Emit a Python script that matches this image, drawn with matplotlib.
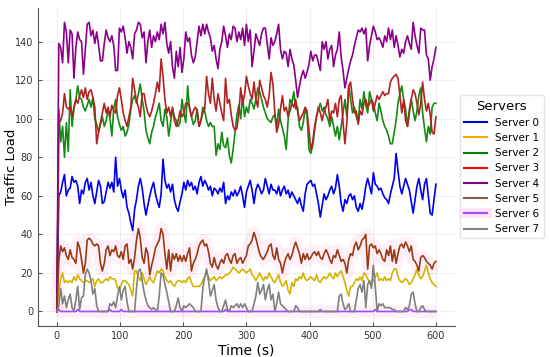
import numpy as np
import matplotlib.pyplot as plt
from matplotlib.lines import Line2D

# time axis, one sample every 3 s
time_s = np.arange(0, 601, 3)

server_names = ["Server 0", "Server 1", "Server 2", "Server 3",
                "Server 4", "Server 5", "Server 6", "Server 7"]

server0 = [0, 60, 62, 67, 71, 60, 63, 64, 70, 67,
           68, 65, 56, 63, 61, 67, 69, 63, 67, 60,
           56, 62, 68, 65, 56, 57, 62, 67, 64, 67,
           62, 80, 65, 69, 63, 59, 63, 54, 51, 46,
           42, 53, 58, 65, 69, 64, 56, 50, 55, 60,
           64, 67, 61, 57, 54, 61, 79, 68, 64, 66,
           62, 66, 58, 54, 52, 57, 61, 67, 63, 68,
           65, 67, 63, 65, 61, 67, 70, 65, 68, 66,
           63, 65, 60, 64, 63, 61, 64, 62, 67, 56,
           60, 58, 62, 60, 63, 60, 62, 65, 60, 54,
           62, 65, 68, 63, 56, 63, 66, 64, 61, 63,
           69, 65, 61, 66, 63, 63, 61, 65, 60, 63,
           65, 61, 63, 59, 62, 60, 58, 56, 59, 55,
           52, 61, 66, 67, 68, 65, 66, 61, 56, 49,
           55, 61, 58, 60, 63, 65, 61, 64, 71, 65,
           56, 52, 58, 56, 60, 61, 58, 60, 54, 52,
           56, 53, 58, 65, 69, 65, 61, 72, 66, 65,
           63, 64, 61, 59, 58, 56, 61, 65, 69, 82,
           73, 65, 61, 65, 69, 66, 63, 57, 51, 58,
           65, 69, 63, 58, 66, 69, 60, 51, 50, 58,
           66]

server1 = [0, 11, 17, 20, 15, 16, 15, 16, 15, 18,
           16, 19, 17, 16, 15, 16, 16, 15, 16, 17,
           13, 16, 17, 15, 15, 16, 17, 16, 18, 17,
           17, 16, 12, 11, 14, 16, 16, 15, 14, 11,
           8, 21, 21, 18, 16, 20, 17, 14, 16, 18,
           16, 15, 18, 21, 20, 22, 21, 18, 16, 15,
           16, 14, 13, 15, 16, 16, 15, 16, 15, 17,
           18, 15, 13, 13, 13, 13, 14, 16, 18, 20,
           18, 16, 17, 18, 16, 17, 18, 17, 18, 19,
           19, 20, 21, 23, 22, 21, 20, 21, 22, 21,
           20, 21, 22, 19, 18, 16, 18, 20, 18, 16,
           18, 17, 20, 18, 16, 15, 17, 19, 15, 13,
           14, 16, 11, 9, 15, 13, 17, 16, 18, 17,
           20, 17, 16, 17, 18, 17, 16, 19, 16, 15,
           17, 18, 17, 18, 20, 18, 17, 20, 18, 20,
           21, 18, 15, 11, 8, 13, 13, 15, 17, 16,
           18, 16, 20, 19, 17, 15, 14, 16, 18, 20,
           16, 17, 16, 18, 16, 17, 16, 20, 22, 22,
           18, 16, 15, 16, 17, 16, 14, 15, 17, 19,
           22, 19, 17, 18, 21, 24, 20, 17, 15, 14,
           13]

server2 = [0, 105, 88, 96, 80, 98, 83, 115, 96, 105,
           110, 117, 111, 110, 106, 104, 107, 110, 106, 111,
           100, 97, 93, 97, 101, 96, 99, 105, 100, 91,
           105, 110, 101, 97, 94, 96, 91, 93, 97, 105,
           110, 112, 108, 113, 118, 110, 104, 94, 90, 87,
           93, 96, 101, 104, 108, 99, 96, 105, 101, 91,
           98, 105, 101, 99, 96, 98, 110, 103, 98, 117,
           105, 101, 97, 99, 105, 96, 99, 106, 104, 99,
           96, 98, 96, 96, 81, 87, 84, 93, 86, 85,
           90, 81, 77, 84, 93, 102, 107, 100, 112, 101,
           106, 103, 110, 108, 105, 110, 116, 114, 110, 106,
           103, 100, 99, 98, 101, 102, 96, 105, 99, 95,
           91, 84, 99, 110, 108, 114, 105, 106, 96, 94,
           98, 105, 102, 84, 82, 86, 94, 101, 105, 108,
           104, 106, 102, 100, 96, 101, 96, 91, 96, 89,
           96, 103, 110, 101, 117, 110, 103, 106, 101, 98,
           110, 105, 114, 107, 103, 114, 110, 108, 103, 99,
           108, 104, 99, 96, 94, 91, 87, 87, 93, 99,
           108, 113, 117, 110, 105, 96, 105, 110, 104, 99,
           104, 112, 116, 103, 95, 88, 96, 92, 106, 108,
           108]

server3 = [0, 98, 99, 103, 113, 106, 105, 106, 101, 106,
           110, 108, 112, 115, 111, 116, 110, 114, 115, 111,
           106, 87, 93, 98, 103, 108, 103, 106, 101, 107,
           104, 103, 112, 116, 110, 103, 99, 96, 101, 106,
           121, 115, 109, 106, 101, 113, 113, 107, 103, 101,
           104, 108, 113, 119, 114, 131, 122, 110, 103, 106,
           101, 106, 99, 96, 99, 104, 101, 103, 108, 108,
           106, 101, 104, 106, 104, 96, 99, 103, 105, 122,
           113, 108, 121, 110, 104, 113, 108, 103, 99, 121,
           108, 110, 102, 96, 94, 95, 103, 116, 108, 112,
           122, 117, 113, 110, 119, 110, 106, 120, 116, 112,
           110, 106, 112, 124, 118, 103, 93, 97, 105, 112,
           104, 106, 101, 104, 108, 106, 110, 104, 99, 101,
           103, 106, 104, 94, 84, 88, 96, 101, 106, 103,
           99, 104, 106, 110, 99, 104, 103, 108, 101, 110,
           112, 98, 87, 98, 117, 119, 110, 103, 104, 97,
           104, 102, 108, 110, 106, 108, 110, 104, 108, 112,
           110, 112, 114, 112, 113, 113, 119, 121, 122, 123,
           121, 112, 103, 110, 99, 96, 103, 110, 115, 113,
           108, 102, 108, 119, 110, 104, 108, 102, 93, 92,
           101]

server4 = [0, 139, 137, 129, 150, 145, 129, 146, 144, 121,
           137, 145, 141, 140, 123, 136, 149, 150, 143, 146,
           139, 145, 138, 130, 130, 139, 146, 142, 140, 143,
           138, 125, 125, 147, 145, 148, 142, 134, 140, 137,
           131, 144, 146, 150, 149, 142, 145, 129, 140, 146,
           137, 143, 140, 145, 141, 149, 144, 150, 139, 134,
           140, 127, 121, 135, 127, 137, 124, 131, 145, 140,
           142, 133, 129, 132, 140, 148, 143, 149, 144, 149,
           145, 142, 135, 138, 131, 126, 136, 140, 148, 143,
           137, 144, 141, 148, 147, 140, 145, 141, 147, 138,
           149, 140, 146, 127, 135, 144, 141, 138, 144, 147,
           147, 139, 131, 142, 138, 140, 144, 149, 136, 131,
           135, 134, 127, 136, 131, 128, 120, 111, 117, 122,
           125, 121, 124, 128, 135, 130, 133, 133, 129, 125,
           140, 136, 140, 131, 136, 138, 127, 133, 136, 145,
           132, 125, 116, 121, 126, 130, 133, 138, 142, 146,
           145, 147, 144, 147, 130, 138, 143, 148, 145, 141,
           142, 140, 137, 143, 140, 147, 141, 146, 137, 143,
           138, 132, 136, 134, 140, 143, 139, 136, 150, 143,
           138, 134, 147, 146, 146, 133, 131, 120, 127, 131,
           137]

server5 = [0, 26, 34, 31, 33, 29, 27, 32, 28, 27,
           25, 36, 33, 27, 20, 25, 37, 38, 37, 35,
           34, 35, 34, 25, 21, 25, 32, 34, 29, 32,
           31, 34, 29, 28, 31, 27, 34, 35, 25, 27,
           22, 28, 37, 43, 38, 28, 25, 33, 30, 19,
           24, 28, 33, 35, 37, 43, 40, 30, 22, 32,
           21, 30, 27, 30, 26, 29, 26, 29, 26, 30,
           33, 21, 25, 27, 30, 34, 36, 37, 34, 35,
           31, 25, 23, 28, 24, 22, 25, 27, 25, 29,
           30, 27, 25, 29, 30, 25, 27, 28, 25, 27,
           29, 34, 35, 37, 41, 38, 34, 30, 28, 27,
           29, 31, 34, 35, 29, 27, 33, 27, 25, 20,
           25, 28, 30, 27, 29, 33, 36, 33, 30, 25,
           30, 27, 30, 27, 28, 30, 31, 29, 31, 28,
           27, 30, 32, 30, 27, 25, 29, 28, 32, 29,
           26, 27, 25, 20, 27, 30, 29, 34, 36, 32,
           34, 37, 38, 40, 22, 34, 35, 33, 34, 30,
           32, 30, 27, 26, 32, 29, 34, 26, 32, 25,
           30, 34, 35, 33, 36, 34, 31, 34, 27, 26,
           24, 21, 28, 29, 28, 26, 25, 24, 22, 25,
           26]

server6 = [0, 1, 0, 0, 0, 0, 0, 0, 0, 0,
           0, 1, 0, 0, 0, 0, 0, 0, 0, 0,
           0, 0, 0, 0, 0, 0, 0, 0, 1, 0,
           0, 0, 0, 0, 1, 0, 0, 0, 0, 0,
           0, 0, 0, 0, 0, 0, 0, 0, 0, 0,
           0, 0, 0, 0, 0, 0, 0, 0, 0, 0,
           0, 0, 0, 0, 0, 0, 0, 0, 0, 0,
           0, 0, 0, 0, 0, 0, 0, 0, 0, 0,
           0, 0, 0, 0, 0, 0, 0, 0, 0, 1,
           0, 0, 0, 0, 0, 0, 0, 0, 0, 0,
           0, 0, 0, 0, 0, 0, 0, 0, 0, 0,
           0, 0, 0, 0, 0, 0, 0, 0, 0, 0,
           0, 0, 0, 0, 0, 0, 0, 0, 0, 0,
           0, 0, 0, 0, 0, 0, 0, 0, 0, 1,
           0, 0, 0, 0, 0, 0, 0, 0, 0, 0,
           0, 0, 0, 0, 0, 0, 0, 0, 0, 0,
           0, 0, 0, 0, 0, 0, 0, 0, 1, 0,
           0, 0, 0, 0, 0, 0, 0, 0, 0, 0,
           0, 0, 0, 0, 0, 0, 1, 1, 0, 0,
           0, 0, 0, 0, 0, 0, 0, 0, 0, 0,
           0]

server7 = [0, 3, 12, 4, 8, 2, 6, 9, 2, 0,
           6, 13, 1, 7, 8, 19, 22, 20, 16, 9,
           12, 3, 0, 0, 0, 0, 0, 0, 4, 3,
           5, 2, 8, 13, 6, 11, 13, 5, 0, 0,
           0, 0, 12, 21, 22, 16, 10, 6, 3, 2,
           1, 2, 1, 0, 8, 20, 19, 14, 10, 5,
           0, 0, 0, 3, 7, 2, 0, 3, 2, 3,
           4, 3, 2, 0, 0, 0, 0, 12, 18, 22,
           16, 8, 11, 14, 6, 2, 0, 0, 3, 6,
           1, 0, 3, 2, 3, 4, 2, 4, 2, 4,
           2, 0, 0, 0, 4, 8, 15, 9, 11, 14,
           6, 11, 14, 6, 9, 0, 4, 10, 4, 3,
           2, 1, 0, 0, 0, 0, 3, 2, 0, 0,
           0, 0, 0, 0, 0, 0, 0, 0, 0, 0,
           0, 0, 0, 0, 0, 0, 0, 0, 0, 8,
           9, 4, 1, 2, 4, 0, 0, 0, 6, 12,
           14, 10, 16, 2, 14, 16, 12, 24, 13, 0,
           4, 3, 4, 2, 2, 2, 2, 1, 1, 0,
           0, 0, 0, 0, 2, 1, 3, 9, 10, 4,
           0, 0, 2, 3, 1, 0, 0, 0, 0, 0,
           0]

series = [server0, server1, server2, server3, server4, server5, server6, server7]
line_colors = ["#0000ee", "#d4b400", "#138a13", "#b22222",
               "#8b008b", "#9a3a12", "#9b4dff", "#808080"]
legend_colors = ["#0000cc", "#ffa500", "#008000", "#ff0000",
                 "#800080", "#8b5a4a", "#9b4dff", "#808080"]

fig, ax = plt.subplots(figsize=(5.5, 3.57), dpi=100)

# pink glow behind the low-load servers
ax.plot(time_s, server5, color="#ff4fc0", alpha=0.09, lw=9, zorder=1,
        solid_capstyle="butt")
ax.plot(time_s, server6, color="#ff4fc0", alpha=0.09, lw=9, zorder=1,
        solid_capstyle="butt")

for vals, c in zip(series, line_colors):
    ax.plot(time_s, vals, color=c, lw=1.2, zorder=3)

ax.set_xlabel("Time (s)", fontsize=10, labelpad=2)
ax.set_ylabel("Traffic Load", fontsize=9.5)
ax.yaxis.set_label_coords(-0.047, 0.5)
ax.set_xticks(range(0, 601, 100))
ax.set_yticks(range(0, 141, 20))
ax.tick_params(labelsize=7, direction="in", length=3, color="#555555",
               labelcolor="#333333")
ax.grid(color="#eeeeee", lw=0.7)
ax.set_axisbelow(True)
for s in ["top", "right"]:
    ax.spines[s].set_visible(False)
for s in ["left", "bottom"]:
    ax.spines[s].set_color("#555555")
    ax.spines[s].set_linewidth(0.8)

handles = []
for i, c in enumerate(legend_colors):
    if i == 6:
        h = (Line2D([], [], color="#ffe0f4", lw=7), Line2D([], [], color=c, lw=1.5))
    else:
        h = Line2D([], [], color=c, lw=1.5)
    handles.append(h)
leg = ax.legend(handles, server_names, title="Servers", loc="center left",
                bbox_to_anchor=(1.005, 0.5), fontsize=7.5, title_fontsize=9.5,
                frameon=True, edgecolor="#dddddd", handlelength=2.2,
                borderaxespad=0.3)

fig.subplots_adjust(left=0.069, right=0.827, bottom=0.087, top=0.978)
fig.savefig("out.png", dpi=100)
